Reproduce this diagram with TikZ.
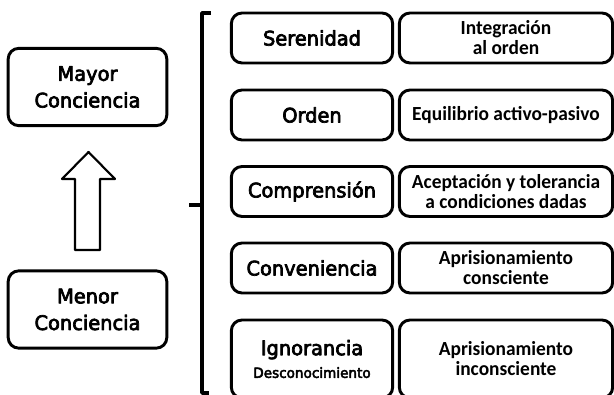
\documentclass[tikz,border=0pt]{standalone}
\usepackage{fontspec}
\setmainfont{DejaVu Sans}
\newfontfamily\tahoma{DejaVu Sans}[FakeBold=3.5,FakeStretch=0.97]
\newfontfamily\calibri{Carlito}[FakeStretch=0.97]
\begin{document}
\begin{tikzpicture}[join=round,x=0.75pt,y=-0.75pt]
\tikzstyle{caja} = [draw,line width=2.2pt,rounded corners=8pt,align=center,inner sep=0pt]
\tikzstyle{extremo} = [caja,minimum width=119pt,minimum height=58pt,font=\tahoma\fontsize{15}{20}\selectfont]
\tikzstyle{nivel} = [caja,minimum width=121pt,minimum height=37.5pt,font=\tahoma\fontsize{15}{18}\selectfont]
\tikzstyle{rasgo} = [caja,minimum width=160pt,minimum height=37.5pt,font=\calibri\bfseries\fontsize{15}{15}\selectfont]
\useasboundingbox (0,0) rectangle (614,395);
%extremos de la conciencia
\node[extremo](mayor) at (87.5,87){Mayor\\Conciencia};
\node[extremo](menor) at (87.5,309.5){Menor\\Conciencia};
%flecha hueca
\draw[line width=1.6pt] (88.5,152)--(115,179)--(100,179)--(100,250)--(75,250)--(75,179)--(62,179)--cycle;
%llave
\draw[line width=2.6pt] (211,13)--(202,13)--(202,393)--(209,393);
\draw[line width=2.6pt] (202,205)--(189,205);
%niveles
\node[nivel](serenidad) at (312,38){Serenidad};
\node[nivel](orden) at (312,115){Orden};
\node[nivel](comprension) at (312,191.5){Comprensión};
\node[nivel](conveniencia) at (312,268){Conveniencia};
\node[nivel,minimum height=58.5pt](ignorancia) at (312,359){Ignorancia\\[-1pt]{\fontsize{10.5}{12}\selectfont Desconocimiento}};
%rasgos
\node[rasgo](integracion) at (506,38){Integración\\al orden};
\node[rasgo](equilibrio) at (506,115){Equilibrio activo-pasivo};
\node[rasgo](aceptacion) at (506,191.5){Aceptación y tolerancia\\a condiciones dadas};
\node[rasgo](consciente) at (506,268){Aprisionamiento\\consciente};
\node[rasgo,minimum height=58.5pt](inconsciente) at (506,359){Aprisionamiento\\inconsciente};
\end{tikzpicture}
\end{document}
